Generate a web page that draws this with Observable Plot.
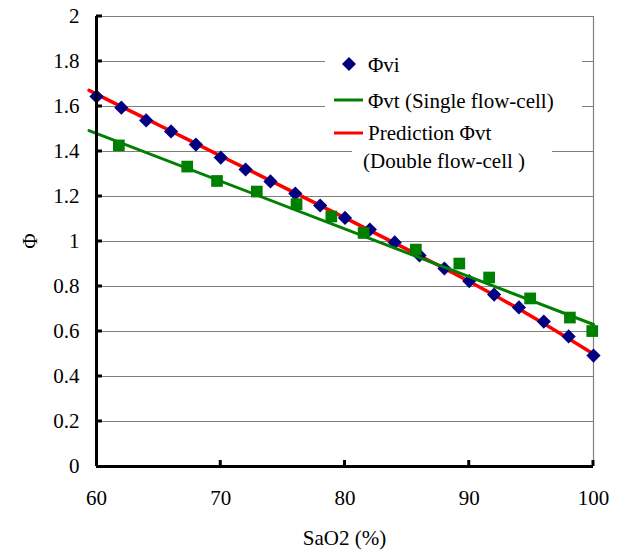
<!DOCTYPE html>
<html><head><meta charset="utf-8">
<script src="https://cdn.jsdelivr.net/npm/d3@7"></script>
<script src="https://cdn.jsdelivr.net/npm/@observablehq/plot@0.6"></script>
<style>
body{margin:0;background:#fff;font-family:'Liberation Serif'}
#c{position:relative;width:628px;height:551px}
#ov{position:absolute;left:0;top:0;pointer-events:none}
</style>
</head><body><div id="c"></div>
<script>
// Φvi measured points
const viX = [60,62,64,66,68,70,72,74,76,78,80,82,84,86,88,90,92,94,96,98,100];
const viY = [1.645,1.595,1.538,1.489,1.431,1.373,1.32,1.267,1.213,1.16,1.105,1.053,0.996,0.938,0.88,0.824,0.764,0.707,0.644,0.578,0.493];
// Φvt single flow-cell points
const vtX = [61.8,67.3,69.7,72.9,76.1,78.9,81.5,85.7,89.2,91.6,94.9,98.1,99.9];
const vtY = [1.427,1.333,1.269,1.222,1.166,1.111,1.038,0.964,0.902,0.84,0.747,0.662,0.602];
// green linear trend line
const fitX = [59.4,100];
const fitY = [1.493,0.631];
// red prediction curve
const predX = [59.4,60,65,70,75,80,85,90,95,100];
const predY = [1.672,1.655,1.518,1.38,1.243,1.105,0.965,0.822,0.668,0.5];
const xTicks = [60,70,80,90,100];
const yTicks = [0,0.2,0.4,0.6,0.8,1,1.2,1.4,1.6,1.8,2];
const legendLabels = ["Φvi","Φvt (Single flow-cell)","Prediction Φvt","(Double flow-cell )"];

const vi = viX.map((x,i)=>({x,y:viY[i]}));
const vt = vtX.map((x,i)=>({x,y:vtY[i]}));
const fit = fitX.map((x,i)=>({x,y:fitY[i]}));
const pred = predX.map((x,i)=>({x,y:predY[i]}));

const chart = Plot.plot({
  width: 628, height: 551,
  marginLeft: 96, marginRight: 35, marginTop: 16, marginBottom: 85,
  style: {fontFamily: "Liberation Serif", fontSize: "21px", color: "#000", background: "#fff"},
  x: {domain: [60,100]},
  y: {domain: [0,2]},
  marks: [
    Plot.ruleY(yTicks.filter(d=>d>0), {stroke: "#808080", strokeWidth: 1.2, strokeOpacity: 1}),
    Plot.ruleX([100], {stroke: "#808080", strokeWidth: 1.2}),
    Plot.axisX({ticks: xTicks, tickSize: 0, tickPadding: 24, label: null, fontSize: 21}),
    Plot.axisY({ticks: yTicks, tickSize: 0, tickPadding: 17, label: null, fontSize: 21,
      tickFormat: d => String(+d.toFixed(1))}),
    Plot.line(pred, {x: "x", y: "y", stroke: "#ff0000", strokeWidth: 3.5, curve: "monotone-x", clip: false}),
    Plot.dot(vi, {x: "x", y: "y", symbol: "diamond2", r: 6.4, fill: "#000080", stroke: "none"}),
    Plot.line(fit, {x: "x", y: "y", stroke: "#008000", strokeWidth: 3}),
    Plot.dot(vt, {x: "x", y: "y", symbol: "square", r: 6.6, fill: "#008000", stroke: "none"}),
    Plot.ruleX([60], {stroke: "#000", strokeWidth: 3}),
    Plot.ruleY([0], {stroke: "#000", strokeWidth: 3})
  ]
});
const host = document.getElementById("c");
host.appendChild(chart);

const xs = chart.scale("x"), ys = chart.scale("y");
const ov = d3.select(host).append("svg").attr("id","ov")
  .attr("width",628).attr("height",551);

// legend background (covers gridlines)
ov.append("rect").attr("x",325).attr("y",48).attr("width",257).attr("height",98).style("fill","#fff");
ov.append("rect").attr("x",352).attr("y",140).attr("width",200).attr("height",34).style("fill","#fff");

// inward tick marks
ov.append("g").selectAll("line").data(xTicks.slice(1)).join("line")
  .attr("x1", d=>xs.apply(d)).attr("x2", d=>xs.apply(d))
  .attr("y1", ys.apply(0)).attr("y2", ys.apply(0)-6)
  .style("stroke","#000").style("stroke-width","3px");
ov.append("g").selectAll("line").data(yTicks.slice(1)).join("line")
  .attr("x1", xs.apply(60)).attr("x2", xs.apply(60)+6)
  .attr("y1", d=>ys.apply(d)).attr("y2", d=>ys.apply(d))
  .style("stroke","#000").style("stroke-width","3px");

// legend symbols
ov.append("path").attr("d", d3.symbol(d3.symbolDiamond2, 125)()).attr("transform","translate(349,64)").style("fill","#000080");
ov.append("line").attr("x1",334).attr("x2",363).attr("y1",100).attr("y2",100).style("stroke","#008000").style("stroke-width","3px");
ov.append("line").attr("x1",334).attr("x2",363).attr("y1",133).attr("y2",133).style("stroke","#ff0000").style("stroke-width","3px");
const lpos = [[368,72],[368,108],[368,140],[363,168]];
legendLabels.forEach((t,i)=>ov.append("text").attr("x",lpos[i][0]).attr("y",lpos[i][1])
  .style("font-family","'Liberation Serif'").style("font-size","21px").style("text-anchor","start").style("fill","#000").text(t));

// axis titles
ov.append("text").attr("x", (xs.apply(60)+xs.apply(100))/2).attr("y", 545)
  .style("font-family","'Liberation Serif'").style("text-anchor","middle").style("font-size","21px").style("fill","#000").text("SaO2 (%)");
ov.append("text").attr("transform", `translate(37,${ys.apply(1)}) rotate(-90)`)
  .style("font-family","'Liberation Serif'").style("text-anchor","middle").style("font-size","21px").style("fill","#000").text("Φ");
</script></body></html>
